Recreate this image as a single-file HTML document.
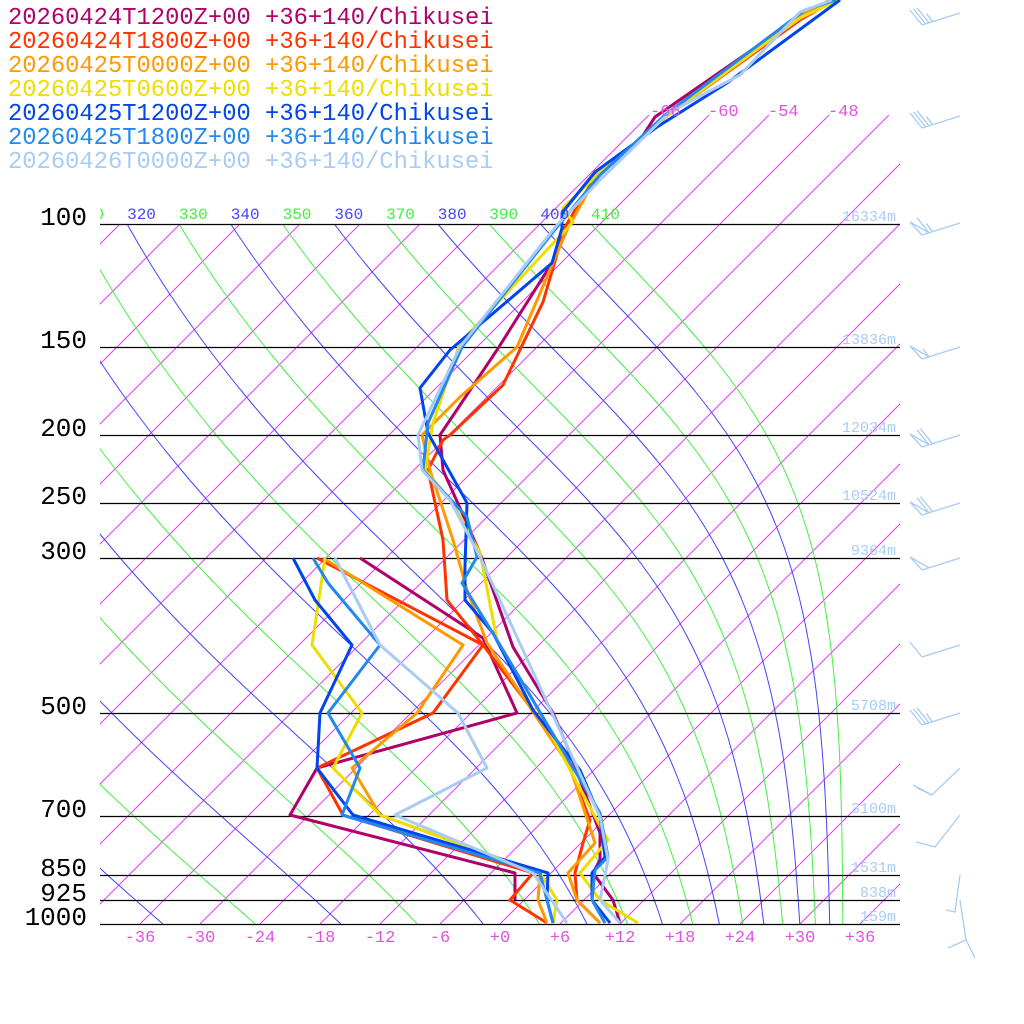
<!DOCTYPE html>
<html><head><meta charset="utf-8"><style>
html,body{margin:0;padding:0;background:#fff;}
svg{display:block;}
text{font-family:"Liberation Mono",monospace;}
</style></head><body>
<svg id="s" width="1024" height="1024" viewBox="0 0 1024 1024" xmlns="http://www.w3.org/2000/svg">
<defs>
<clipPath id="cIso"><rect x="100" y="115" width="800" height="809"/></clipPath>
<clipPath id="cTh"><rect x="100" y="224" width="800" height="700"/></clipPath>
<clipPath id="cLbl"><rect x="100" y="190" width="800" height="40"/></clipPath>
</defs>
<g id="grid"></g>
<g id="prof" fill="none" stroke-width="3" stroke-linejoin="round"></g>
<g id="lbl"></g>
</svg>
<script>
var NS="http://www.w3.org/2000/svg";
function el(parent,tag,attrs,txt){var e=document.createElementNS(NS,tag);for(var k in attrs)e.setAttribute(k,attrs[k]);if(txt!==undefined)e.textContent=txt;parent.appendChild(e);return e;}
var grid=document.getElementById('grid'),prof=document.getElementById('prof'),lbl=document.getElementById('lbl');
var K=304;
function yOf(p){return 924-K*Math.log(1000/p);}
function xOf(T,y){return 500+10*T+(924-y);}
// isotherms
var gi=el(grid,'g',{'clip-path':'url(#cIso)',stroke:'#dd44ee','stroke-width':1});
for(var T=-120;T<=60;T+=6){var x0=500+10*T;var ytop=(T>=-66)?115:224;el(gi,'line',{x1:x0,y1:924,x2:x0+(924-ytop),y2:ytop});}
// moist adiabats (theta-e)
function es(Tc){return 6.112*Math.exp(17.67*Tc/(Tc+243.5));}
function the(Tk,p){var e=es(Tk-273.15);var r=0.622*e/Math.max(p-e,0.1);return Tk*Math.pow(1000/p,0.2854)*Math.exp(2.5e6*r/(1005*Tk));}
var gt=el(grid,'g',{'clip-path':'url(#cTh)',fill:'none','stroke-width':1});
var gl=el(lbl,'g',{'clip-path':'url(#cLbl)'});
for(var th=200;th<=410;th+=10){
  var pts=[];
  for(var y=224;y<=924;y+=4){var p=1000*Math.exp(-(924-y)/K);
    var lo=150,hi=340;for(var i=0;i<50;i++){var m=(lo+hi)/2;if(the(m,p)>th)hi=m;else lo=m;}
    var Tc=(lo+hi)/2-273.15;pts.push(xOf(Tc,y).toFixed(1)+','+y);}
  var col=((th/10)%2==0)?'#4444ff':'#44ee44';
  el(gt,'polyline',{points:pts.join(' '),stroke:col});
  var xl=parseFloat(pts[0].split(',')[0]);
  if(th>=310&&th<=410) el(gl,'text',{x:xl,y:219,fill:col,'font-size':16},String(th));
}
// pressure lines
var P=[[100,'16334m'],[150,'13836m'],[200,'12034m'],[250,'10524m'],[300,'9364m'],[500,'5708m'],[700,'3100m'],[850,'1531m'],[925,'838m'],[1000,'159m']];
P.forEach(function(a){var y=Math.round(yOf(a[0]));el(grid,'line',{x1:100,y1:y+0.5,x2:900,y2:y+0.5,stroke:'#000','stroke-width':1.3});
 el(lbl,'text',{x:87,y:y+1,'text-anchor':'end','font-size':26,fill:'#000'},String(a[0]));
 el(lbl,'text',{x:896,y:(a[0]==1000?921:y-3),'text-anchor':'end','font-size':15,fill:'#a8ccf4'},a[1]);});
// bottom labels
for(var T=-36;T<=36;T+=6){var s=(T>0?'+':(T==0?'+':'-'))+Math.abs(T);if(T==0)s='+0';
 el(lbl,'text',{x:500+10*T,y:942,'text-anchor':'middle','font-size':17,fill:'#dd55dd'},s);}
[['-66',650],['-60',708],['-54',768],['-48',828]].forEach(function(a){el(lbl,'text',{x:a[1],y:116,'font-size':17,fill:'#dd55dd'},a[0]);});
// legend
var L=[['#b0006a','20260424T1200Z+00 +36+140/Chikusei'],['#ff3300','20260424T1800Z+00 +36+140/Chikusei'],['#ff9900','20260425T0000Z+00 +36+140/Chikusei'],['#eedd00','20260425T0600Z+00 +36+140/Chikusei'],['#0044ee','20260425T1200Z+00 +36+140/Chikusei'],['#2288ee','20260425T1800Z+00 +36+140/Chikusei'],['#a8ccf4','20260426T0000Z+00 +36+140/Chikusei']];
L.forEach(function(a,i){el(lbl,'text',{x:8,y:24+24*i,'font-size':23.8,fill:a[0]},a[1]);});
// profiles
var S=[
['#b0006a',[[830,0],[795,20],[655,117],[640,140],[595,178],[572,217],[552,263],[497,350],[440,435],[443,470],[480,553],[513,647],[553,713],[570,753],[600,833],[600,860],[593,873],[613,900],[620,923]],
 [[360,558],[483,638],[517,713],[317,768],[290,815],[515,873],[515,900]]],
['#ff3300',[[835,0],[800,20],[668,115],[640,140],[598,172],[565,227],[543,302],[503,385],[450,435],[443,440],[428,470],[443,540],[447,600],[483,645],[563,750],[590,820],[583,843],[575,873],[577,900],[600,923]],
 [[317,558],[483,645],[433,713],[317,768],[343,815],[533,873],[510,900],[547,923]]],
['#ff9900',[[833,0],[800,15],[665,115],[630,150],[600,170],[567,230],[517,347],[460,397],[422,435],[430,470],[453,540],[467,590],[487,643],[570,767],[595,843],[568,873],[577,900],[600,923]],
 [[323,558],[463,645],[417,713],[352,768],[380,815],[540,873],[538,900],[547,923]]],
['#eedd00',[[838,0],[800,18],[668,115],[640,140],[600,172],[563,208],[573,222],[460,343],[433,423],[425,470],[453,503],[480,553],[497,640],[533,700],[593,813],[608,840],[580,873],[600,900],[638,923]],
 [[325,558],[312,645],[362,713],[333,768],[380,815],[540,873],[557,900],[553,923]]],
['#0044ee',[[840,0],[727,83],[657,127],[595,172],[562,213],[562,228],[552,263],[497,310],[450,350],[420,388],[428,433],[467,503],[465,567],[465,600],[493,633],[533,710],[580,770],[600,817],[605,857],[592,873],[592,900],[610,923]],
 [[293,558],[315,600],[352,645],[320,713],[317,768],[353,815],[548,873],[547,900],[553,923]]],
['#2288ee',[[836,0],[805,10],[665,115],[600,175],[557,227],[462,347],[428,423],[423,470],[467,517],[477,557],[462,583],[497,640],[600,813],[608,857],[595,870],[592,900],[605,923]],
 [[313,558],[328,583],[380,645],[328,713],[360,768],[342,815],[540,873],[547,900],[553,923]]],
['#a8ccf4',[[832,0],[800,12],[740,75],[670,112],[600,180],[557,225],[460,347],[418,435],[422,470],[450,500],[480,557],[600,817],[608,860],[600,900],[620,923]],
 [[335,558],[380,645],[458,713],[487,768],[395,815],[533,873],[567,923]]]
];
S.forEach(function(s){[s[1],s[2]].forEach(function(pp){el(prof,'polyline',{points:pp.map(function(q){return q.join(',');}).join(' '),stroke:s[0]});});});
// wind barbs
var gb=el(lbl,'g',{stroke:'#a8ccf4','stroke-width':1.3,fill:'none'});
function barb(y,items){var bx=922,by=y+12;el(gb,'line',{x1:960,y1:y,x2:bx,y2:by});
 var dx=(960-bx)/38,dy=(y-by)/38;var pos=0;
 items.forEach(function(t){var px=bx+dx*pos,py=by+dy*pos;
  if(t=='P'){el(gb,'polyline',{points:px+','+py+' '+(px-12)+','+(py-13)+' '+(px+dx*7)+','+(py+dy*7)});pos+=7;}
  else if(t=='F'){el(gb,'line',{x1:px,y1:py,x2:px-12,y2:py-15});pos+=3.5;}
  else {el(gb,'line',{x1:px,y1:py,x2:px-6,y2:py-8});pos+=3.5;}});}
barb(13,['F','F','F','H']);barb(116,['F','F','F','H']);barb(223,['P','F','H']);barb(347,['P','H']);
barb(435,['P','F','F']);barb(503,['P','F','F']);barb(558,['P']);barb(645,['F']);barb(713,['F','F','F','H']);
el(gb,'polyline',{points:'960,768 932,795 913,785'});el(gb,'line',{x1:932,y1:795,x2:917,y2:788});
el(gb,'polyline',{points:'960,815 935,847 916,842'});
el(gb,'polyline',{points:'960,875 955,912 946,910'});el(gb,'polyline',{points:'960,900 966,940 948,948'});el(gb,'line',{x1:966,y1:940,x2:975,y2:958});
</script>
</body></html>
